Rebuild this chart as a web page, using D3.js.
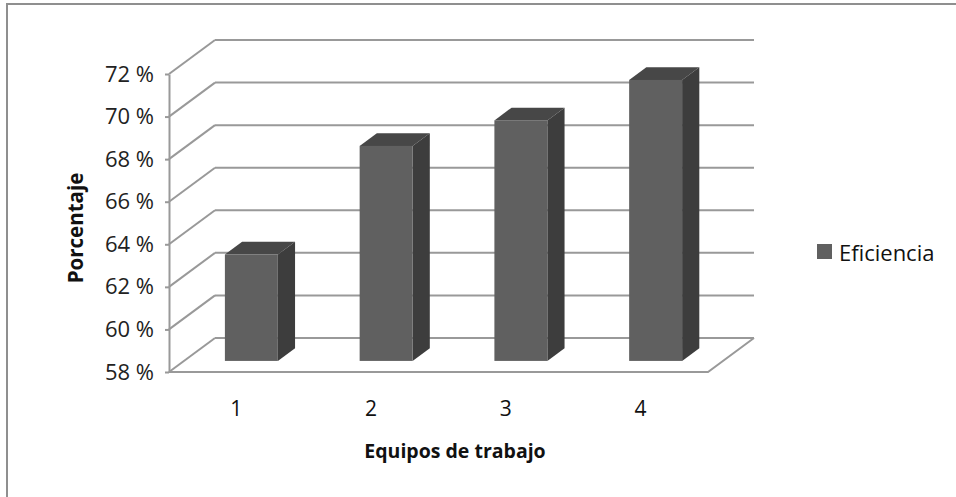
<!DOCTYPE html>
<html>
<head>
<meta charset="utf-8">
<script src="https://cdn.jsdelivr.net/npm/d3@7/dist/d3.min.js"></script>
<style>
  html, body { margin: 0; padding: 0; background: #fff; }
  svg { display: block; }
  text { font-family: "Open Sans", "DejaVu Sans", sans-serif; }
</style>
</head>
<body>
<svg id="chart" width="956" height="497"></svg>
<script>
// Data
const categories = ["1", "2", "3", "4"];
const eficiencia = [63.0, 68.1, 69.3, 71.2];
const yTicks = [58, 60, 62, 64, 66, 68, 70, 72];
const seriesName = "Eficiencia";
const xTitle = "Equipos de trabajo";
const yTitle = "Porcentaje";

const svg = d3.select("#chart");
const W = 956, H = 497;

// Front plane of the 3D box and its depth vector
const plot = { left: 169, right: 708, top: 74, bottom: 372 };
const depth = { dx: 46, dy: -34 };

const y = d3.scaleLinear().domain([58, 72]).range([plot.bottom, plot.top]);
const x = d3.scaleBand().domain(categories).range([plot.left, plot.right]).padding(0);

// Project a point (px on front plane, value v, depth fraction d)
const P = (px, v, d) => [px + d * depth.dx, y(v) + d * depth.dy];

const gridColor = "#999999";

// Chart area border
svg.append("rect")
  .attr("x", 7).attr("y", 4)
  .attr("width", W + 20).attr("height", H + 20)
  .attr("fill", "none").attr("stroke", "#8f8f8f").attr("stroke-width", 2);

const g = svg.append("g");

// Back wall gridlines
g.selectAll("line.grid").data(yTicks).join("line")
  .attr("class", "grid")
  .attr("x1", d => P(plot.left, d, 1)[0]).attr("y1", d => P(plot.left, d, 1)[1])
  .attr("x2", d => P(plot.right, d, 1)[0]).attr("y2", d => P(plot.right, d, 1)[1])
  .attr("stroke", gridColor).attr("stroke-width", 2);

// Side wall gridlines
g.selectAll("line.side").data(yTicks).join("line")
  .attr("class", "side")
  .attr("x1", d => P(plot.left, d, 0)[0]).attr("y1", d => P(plot.left, d, 0)[1])
  .attr("x2", d => P(plot.left, d, 1)[0]).attr("y2", d => P(plot.left, d, 1)[1])
  .attr("stroke", gridColor).attr("stroke-width", 2);

// Floor edges
const base = yTicks[0];
const floorPts = [P(plot.left, base, 0), P(plot.right, base, 0), P(plot.right, base, 1)];
g.append("path")
  .attr("d", d3.line()(floorPts))
  .attr("fill", "none").attr("stroke", gridColor).attr("stroke-width", 2);

// 3D columns
const d0 = 0.326, d1 = 0.70;
const barW = x.bandwidth() * 0.393;
const bars = g.selectAll("g.bar").data(categories.map((c, i) => ({ c, v: eficiencia[i] }))).join("g").attr("class", "bar");

bars.each(function (d) {
  const cx = x(d.c) + x.bandwidth() / 2;
  const x0 = cx - barW / 2, x1 = cx + barW / 2;
  const gb = d3.select(this);
  // top face
  gb.append("path")
    .attr("d", d3.line()([P(x0, d.v, d0), P(x1, d.v, d0), P(x1, d.v, d1), P(x0, d.v, d1)]) + "Z")
    .attr("fill", "#474747");
  // side face
  gb.append("path")
    .attr("d", d3.line()([P(x1, d.v, d0), P(x1, d.v, d1), P(x1, base, d1), P(x1, base, d0)]) + "Z")
    .attr("fill", "#3d3d3d");
  // front face
  const ft = P(x0, d.v, d0), fb = P(x1, base, d0);
  gb.append("rect")
    .attr("x", ft[0]).attr("y", ft[1])
    .attr("width", fb[0] - ft[0]).attr("height", fb[1] - ft[1])
    .attr("fill", "#606060");
});

// Value axis
const yAxis = d3.axisLeft(y)
  .tickValues(yTicks)
  .tickFormat(d => d + " %")
  .tickSize(4).tickSizeOuter(0).tickPadding(11);
const ga = svg.append("g").attr("transform", `translate(${plot.left},0)`).call(yAxis);
ga.select(".domain").attr("stroke", gridColor).attr("stroke-width", 2);
ga.selectAll(".tick line").attr("stroke", gridColor).attr("stroke-width", 2);
ga.selectAll(".tick text")
  .attr("font-family", "Open Sans").attr("font-size", 22).attr("fill", "#222");

// Category labels
svg.selectAll("text.cat").data(categories).join("text")
  .attr("class", "cat")
  .attr("x", d => x(d) + x.bandwidth() / 2)
  .attr("y", 408)
  .attr("text-anchor", "middle").attr("dominant-baseline", "central")
  .attr("font-size", 21).attr("fill", "#111")
  .text(d => d);

// Axis titles
svg.append("text")
  .attr("x", 455).attr("y", 450)
  .attr("text-anchor", "middle").attr("dominant-baseline", "central")
  .attr("font-size", 19.5).attr("font-weight", "bold").attr("fill", "#111")
  .text(xTitle);

svg.append("text")
  .attr("transform", "translate(75,228) rotate(-90)")
  .attr("text-anchor", "middle").attr("dominant-baseline", "central")
  .attr("font-size", 20.5).attr("font-weight", "bold").attr("fill", "#111")
  .text(yTitle);

// Legend
const lg = svg.append("g").attr("transform", "translate(817,244)");
lg.append("rect").attr("width", 15).attr("height", 15).attr("fill", "#606060");
lg.append("text")
  .attr("x", 22).attr("y", 7.5)
  .attr("dominant-baseline", "central")
  .attr("font-size", 22).attr("fill", "#111")
  .text(seriesName);
</script>
</body>
</html>
